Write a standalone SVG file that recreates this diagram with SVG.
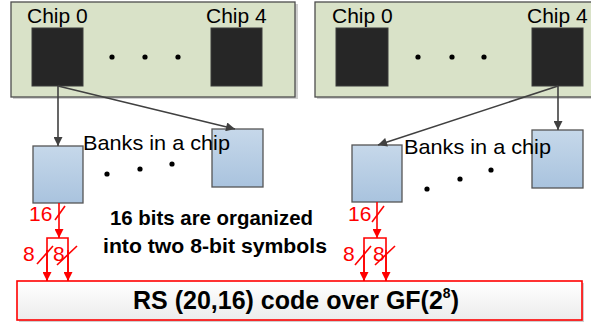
<svg xmlns="http://www.w3.org/2000/svg" width="591" height="326" viewBox="0 0 591 326">
  <defs>
    <linearGradient id="bankFill" x1="0" y1="0" x2="0" y2="1">
      <stop offset="0" stop-color="#c6d8ea"/>
      <stop offset="1" stop-color="#a9c3de"/>
    </linearGradient>
    <linearGradient id="codeFill" x1="0" y1="0" x2="0" y2="1">
      <stop offset="0" stop-color="#ffffff"/>
      <stop offset="1" stop-color="#ececec"/>
    </linearGradient>
    <marker id="grayArrow" viewBox="0 0 10 10" refX="10" refY="5" markerWidth="11" markerHeight="9" orient="auto" markerUnits="userSpaceOnUse">
      <path d="M0,0 L10,5 L0,10 Z" fill="#404040"/>
    </marker>
    <marker id="redArrow" viewBox="0 0 10 10" refX="10" refY="5" markerWidth="12" markerHeight="9" orient="auto" markerUnits="userSpaceOnUse">
      <path d="M0,0 L10,5 L0,10 Z" fill="#ff0000"/>
    </marker>
  </defs>
  <style>
    .panel { fill: #d9e2c8; stroke: #4d4d4d; stroke-width: 1.3; }
    .shadow { fill: #a0a0a0; opacity: 0.5; }
    .chip { fill: #262626; stroke: #3a3a3a; stroke-width: 1; }
    .bank { fill: url(#bankFill); stroke: #555555; stroke-width: 1.3; }
    .dot { fill: #000000; }
    .lbl { font-family: "Liberation Sans", Arial, sans-serif; font-size: 21px; fill: #000000; }
    .red { font-family: "Liberation Sans", Arial, sans-serif; font-size: 21px; fill: #ff0000; }
    .bold { font-family: "Liberation Sans", Arial, sans-serif; font-size: 20px; font-weight: bold; fill: #000000; }
    .link { stroke: #404040; stroke-width: 1.6; fill: none; marker-end: url(#grayArrow); }
    .bus { stroke: #ff0000; stroke-width: 1.6; fill: none; }
    .busArrow { stroke: #ff0000; stroke-width: 1.6; fill: none; marker-end: url(#redArrow); }
  </style>

  <rect width="591" height="326" fill="#ffffff"/>

  <!-- memory modules with their chips -->
  <g id="module-left">
    <rect class="shadow" x="13" y="4" width="285" height="95"/>
    <rect class="panel" x="11" y="2" width="284" height="95"/>
    <rect class="chip" x="32" y="28" width="51" height="58"/>
    <rect class="chip" x="211" y="28" width="51" height="58"/>
    <text class="lbl" x="27" y="23">Chip 0</text>
    <text class="lbl" x="206" y="23">Chip 4</text>
    <circle class="dot" cx="112" cy="57" r="2.6"/>
    <circle class="dot" cx="145" cy="57" r="2.6"/>
    <circle class="dot" cx="178" cy="57" r="2.6"/>
  </g>
  <g id="module-right">
    <rect class="shadow" x="317" y="4" width="290" height="95"/>
    <rect class="panel" x="315" y="2" width="290" height="95"/>
    <rect class="chip" x="336" y="28" width="52" height="58"/>
    <rect class="chip" x="532" y="28" width="51" height="58"/>
    <text class="lbl" x="332" y="23">Chip 0</text>
    <text class="lbl" x="527" y="23">Chip 4</text>
    <circle class="dot" cx="418" cy="57" r="2.6"/>
    <circle class="dot" cx="452" cy="57" r="2.6"/>
    <circle class="dot" cx="484" cy="57" r="2.6"/>
  </g>

  <!-- banks inside a chip -->
  <g id="banks-left">
    <rect class="bank" x="33" y="146" width="50" height="57"/>
    <rect class="bank" x="212" y="129" width="51" height="58"/>
    <text class="lbl" x="83" y="150" textLength="147" lengthAdjust="spacingAndGlyphs">Banks in a chip</text>
    <circle class="dot" cx="107" cy="174" r="2.6"/>
    <circle class="dot" cx="140" cy="169" r="2.6"/>
    <circle class="dot" cx="172" cy="164" r="2.6"/>
  </g>
  <g id="banks-right">
    <rect class="bank" x="352" y="145" width="50" height="57"/>
    <rect class="bank" x="532" y="130" width="51" height="58"/>
    <text class="lbl" x="404" y="154" textLength="147" lengthAdjust="spacingAndGlyphs">Banks in a chip</text>
    <circle class="dot" cx="427" cy="189" r="2.6"/>
    <circle class="dot" cx="460" cy="179" r="2.6"/>
    <circle class="dot" cx="491" cy="170" r="2.6"/>
  </g>

  <!-- explanation -->
  <g id="note">
    <text class="bold" x="110" y="225" textLength="203" lengthAdjust="spacingAndGlyphs">16 bits are organized</text>
    <text class="bold" x="103" y="253" textLength="224" lengthAdjust="spacingAndGlyphs">into two 8-bit symbols</text>
  </g>

  <!-- Reed-Solomon code block -->
  <g id="rs-code">
    <rect class="shadow" x="19" y="283" width="565" height="39"/>
    <rect x="17" y="281" width="565" height="39" fill="url(#codeFill)" stroke="#ff0000" stroke-width="1.6"/>
    <text x="133" y="309" font-family="'Liberation Sans', Arial, sans-serif" font-size="25" font-weight="bold" fill="#000000">RS (20,16) code over GF(2<tspan font-size="14" dy="-11">8</tspan><tspan dy="11">)</tspan></text>
  </g>

  <!-- connectors -->
  <g id="connectors">
    <line class="link" x1="58" y1="86" x2="58" y2="146"/>
    <line class="link" x1="58" y1="86" x2="235" y2="129"/>
    <line class="link" x1="558" y1="86" x2="558" y2="130"/>
    <line class="link" x1="558" y1="86" x2="378" y2="145"/>

    <!-- left bus: 16 bits split into two 8-bit symbols -->
    <line class="busArrow" x1="59" y1="203" x2="59" y2="238"/>
    <line class="bus" x1="55" y1="220" x2="65" y2="206"/>
    <text class="red" x="29" y="221">16</text>
    <polyline class="bus" points="47,281 47,238 68,238 68,281"/>
    <line class="busArrow" x1="47" y1="250" x2="47" y2="281"/>
    <line class="busArrow" x1="68" y1="250" x2="68" y2="281"/>
    <line class="bus" x1="37" y1="264" x2="53" y2="246"/>
    <line class="bus" x1="57" y1="265" x2="77" y2="246"/>
    <text class="red" x="23" y="261">8</text>
    <text class="red" x="53" y="261">8</text>

    <!-- right bus -->
    <line class="busArrow" x1="377" y1="202" x2="377" y2="238"/>
    <line class="bus" x1="372" y1="222" x2="384" y2="206"/>
    <text class="red" x="348" y="221">16</text>
    <polyline class="bus" points="364,281 364,238 386,238 386,281"/>
    <line class="busArrow" x1="364" y1="250" x2="364" y2="281"/>
    <line class="busArrow" x1="386" y1="250" x2="386" y2="281"/>
    <line class="bus" x1="355" y1="265" x2="371" y2="246"/>
    <line class="bus" x1="375" y1="265" x2="395" y2="246"/>
    <text class="red" x="343" y="261">8</text>
    <text class="red" x="373" y="261">8</text>
  </g>
</svg>
